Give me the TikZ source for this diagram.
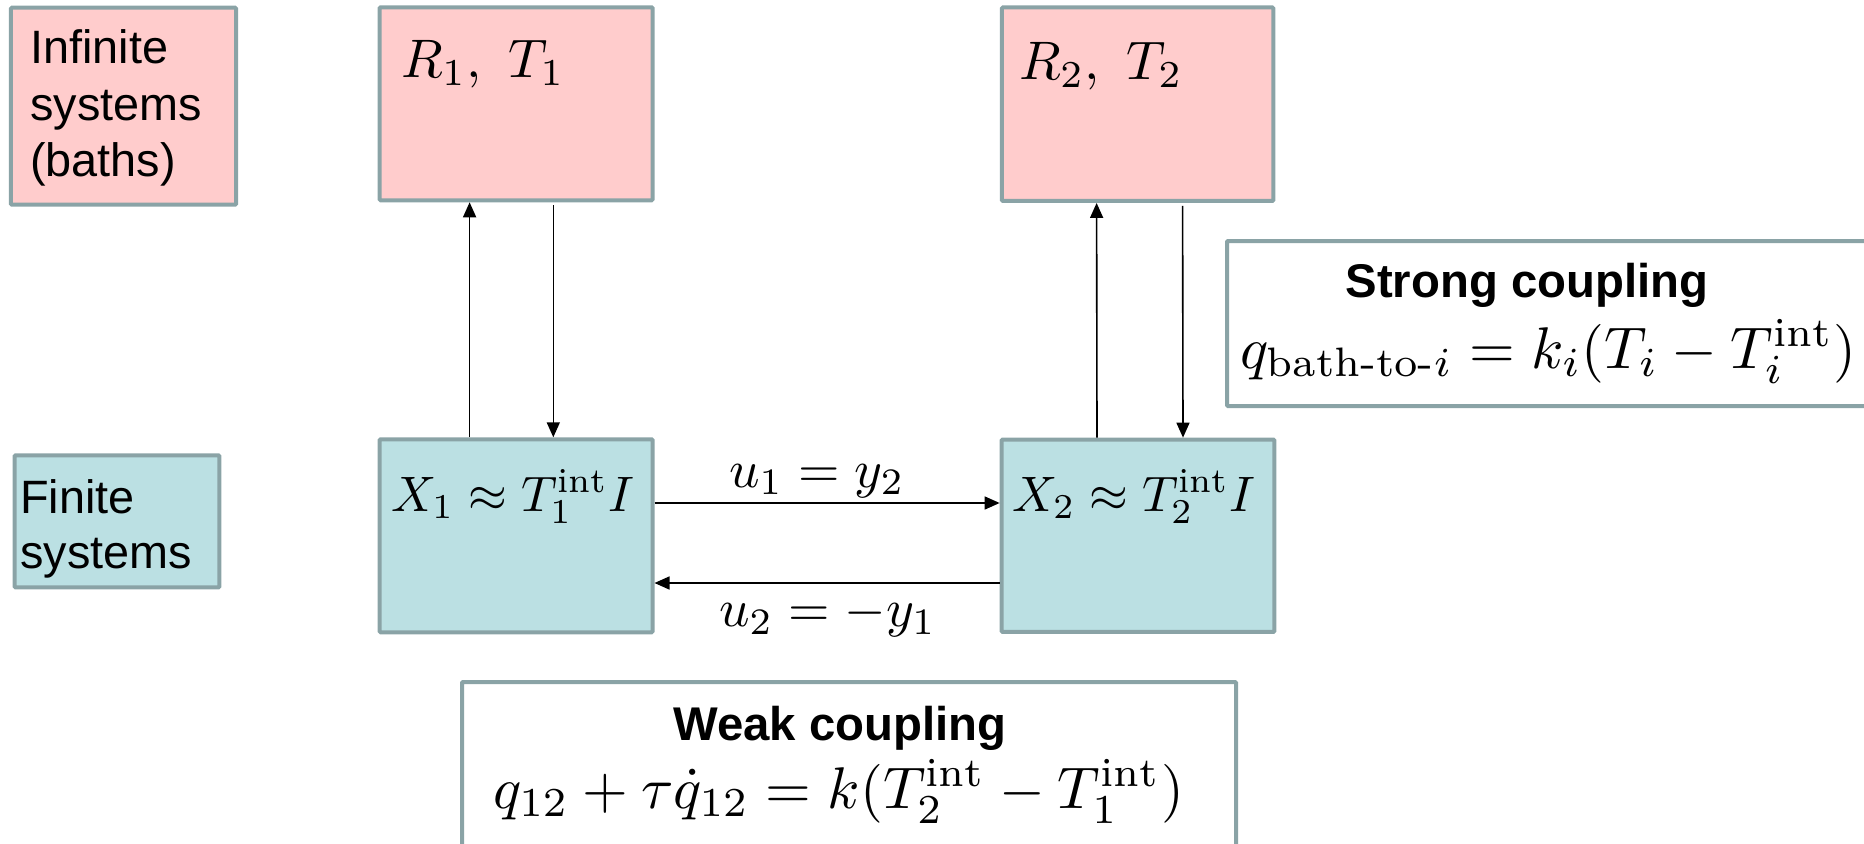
\documentclass[tikz,border=0pt]{standalone}
\usepackage{amsmath}
\usepackage{graphicx}
\usepackage{fontspec}
\newfontfamily\arial{Liberation Sans}
\usetikzlibrary{arrows.meta}
\definecolor{bordc}{RGB}{138,163,166}
\definecolor{pinkf}{RGB}{255,204,204}
\definecolor{cyanf}{RGB}{187,224,227}
\newcommand{\rmath}[1]{\scalebox{5.45}{$#1$}}
\newcommand{\xmath}[1]{\scalebox{5.0}{$#1$}}
\newcommand{\umath}[1]{\scalebox{5.35}{$#1$}}
\newcommand{\bigmath}[1]{\scalebox{5.9}{$#1$}}
\tikzset{
  box/.style={draw=bordc, line width=4bp, rectangle, inner sep=0pt, rounded corners=1bp},
  bathbox/.style={box, fill=pinkf},
  finbox/.style={box, fill=cyanf},
  notebox/.style={box, fill=white},
  sans/.style={font=\arial\fontsize{47}{56.7}\selectfont, inner sep=0pt},
  sansbold/.style={font=\arial\bfseries\fontsize{47.5}{56.7}\selectfont, inner sep=0pt},
  mathlbl/.style={inner sep=0pt},
  arr/.style={line width=1.6bp, -{Triangle[length=15bp,width=13bp]}},
}
\begin{document}
\begin{tikzpicture}[x=1bp,y=-1bp]
\clip (0,0) rectangle (1864,844);
\useasboundingbox (0,0) rectangle (1864,844);
% boxes
\node[bathbox, minimum width=225bp, minimum height=197bp] (inf) at (123.5,106.2) {};
\node[bathbox, minimum width=272.8bp, minimum height=193bp] (r1) at (516.1,103.8) {};
\node[bathbox, minimum width=271.3bp, minimum height=193.5bp] (r2) at (1137.6,104.2) {};
\node[finbox, minimum width=204.9bp, minimum height=132bp] (fin) at (117,521.3) {};
\node[finbox, minimum width=272.8bp, minimum height=193bp] (x1) at (516.1,535.8) {};
\node[finbox, minimum width=272.7bp, minimum height=192.3bp] (x2) at (1138,535.8) {};
\node[notebox, minimum width=653bp, minimum height=165bp] (strong) at (1553.5,323.5) {};
\node[notebox, minimum width=774bp, minimum height=188bp] (weak) at (849,776) {};
% texts
\node[sans, anchor=base west, align=left] (inftxt) at (30,176.7) {Infinite\\systems\\(baths)};
\node[sans, anchor=base west, align=left, font=\arial\fontsize{47}{55}\selectfont] (fintxt) at (20,568.3) {Finite\\systems};
\node[mathlbl, anchor=base west] (r1txt) at (401,77) {\rmath{R_1,\ T_1}};
\node[mathlbl, anchor=base west] (r2txt) at (1019,79) {\rmath{R_2,\ T_2}};
\node[mathlbl, anchor=base west] (x1txt) at (391,511) {\xmath{X_1\approx T_1^{\mathrm{int}}I}};
\node[mathlbl, anchor=base west] (x2txt) at (1012,511) {\xmath{X_2\approx T_2^{\mathrm{int}}I}};
\node[mathlbl, anchor=base west] (u1txt) at (729,487) {\umath{u_1=y_2}};
\node[mathlbl, anchor=base west] (u2txt) at (719,626) {\umath{u_2=-y_1}};
\node[sansbold, anchor=base] (strongtitle) at (1527,297) {Strong coupling};
\node[mathlbl, anchor=base] (strongeq) at (1548.4,368) {\bigmath{q_{\text{bath-to-}i}=k_i(T_i-T_i^{\mathrm{int}})}};
\node[sansbold, anchor=base] (weaktitle) at (840,740) {Weak coupling};
\node[mathlbl, anchor=base] (weakeq) at (838.5,808) {\bigmath{q_{12}+\tau\dot q_{12}=k(T_2^{\mathrm{int}}-T_1^{\mathrm{int}})}};
% connectors
\draw[arr] ([xshift=-46.5bp]x1.north) -- ([xshift=-46.5bp]r1.south);
\draw[arr] ([xshift=37.2bp,yshift=-3bp]r1.south) -- ([xshift=37.2bp]x1.north);
\draw[arr] ([xshift=-41bp]x2.north) -- ([xshift=-41bp]r2.south);
\draw[arr] ([xshift=45bp,yshift=-3bp]r2.south) -- ([xshift=45bp]x2.north);
\draw[arr] ([yshift=32.8bp]x1.east) -- ([yshift=32.8bp]x2.west);
\draw[arr] ([yshift=-47.2bp]x2.west) -- ([yshift=-47.2bp]x1.east);
\end{tikzpicture}
\end{document}
